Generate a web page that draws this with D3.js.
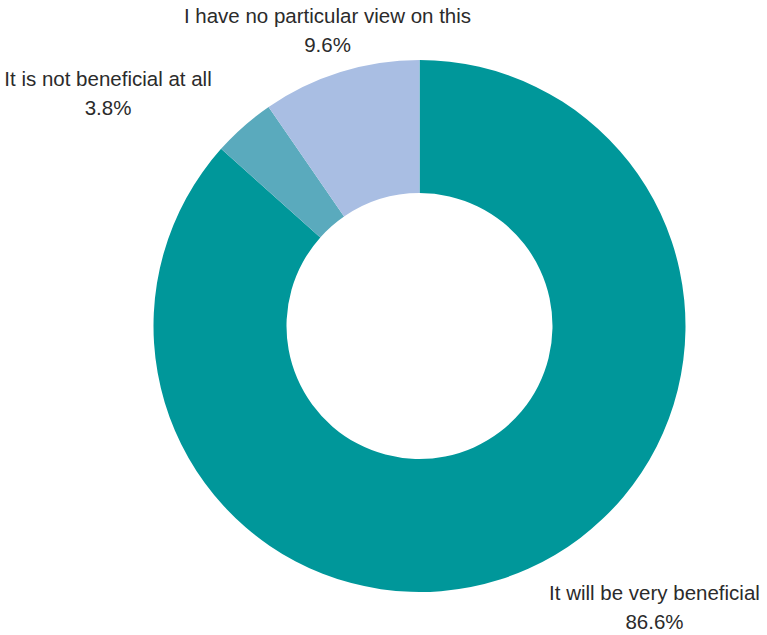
<!DOCTYPE html>
<html>
<head>
<meta charset="utf-8">
<script src="https://cdn.jsdelivr.net/npm/d3@7"></script>
<style>
  html, body { margin: 0; padding: 0; background: #fff; }
  svg { display: block; }
  text { font-family: "Liberation Sans", Arial, sans-serif; fill: #2b2b2b; }
</style>
</head>
<body>
<svg id="chart" width="767" height="635"></svg>
<script>
// Survey responses (percent), drawn clockwise from 12 o'clock
const categories = [
  "It will be very beneficial",
  "It is not beneficial at all",
  "I have no particular view on this"
];
const values = [86.6, 3.8, 9.6];
const valueLabels = ["86.6%", "3.8%", "9.6%"];
const colors = ["#00979a", "#5aaabd", "#a9bee3"];

const W = 767, H = 635;
const cx = 419.5, cy = 326;
const outerR = 266, innerR = 133;

const svg = d3.select("#chart");

const pie = d3.pie().sort(null).value(d => d.value);
const arc = d3.arc().innerRadius(innerR).outerRadius(outerR);

const data = categories.map((c, i) => ({ name: c, value: values[i], label: valueLabels[i], color: colors[i] }));
const arcs = pie(data);

const g = svg.append("g").attr("transform", `translate(${cx},${cy})`);

g.selectAll("path.slice")
  .data(arcs)
  .join("path")
  .attr("class", "slice")
  .attr("d", arc)
  .attr("fill", d => d.data.color);

// Label placement: centre x and first-line baseline, relative to the chart centre
const labelAnchor = {
  "It will be very beneficial": [235, 274],
  "It is not beneficial at all": [-311.5, -240],
  "I have no particular view on this": [-92, -303]
};
const lineGap = 29;

const labels = svg.append("g").attr("transform", `translate(${cx},${cy})`);
arcs.forEach(d => {
  const [lx, ly] = labelAnchor[d.data.name];
  const t = labels.append("text")
    .attr("text-anchor", "middle")
    .attr("font-size", 20.5);
  t.append("tspan").attr("x", lx).attr("y", ly).text(d.data.name);
  t.append("tspan").attr("x", lx).attr("y", ly + lineGap).text(d.data.label);
});
</script>
</body>
</html>
